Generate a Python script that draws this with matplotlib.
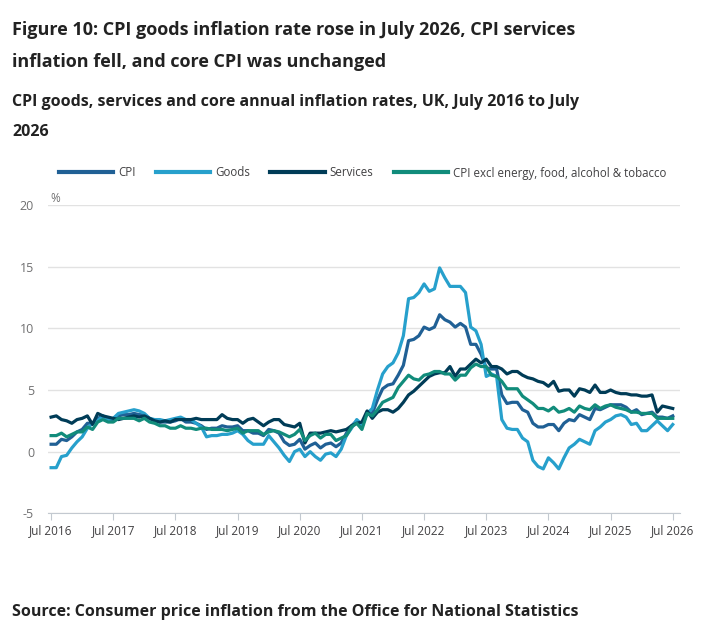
import numpy as np
import matplotlib
matplotlib.use("Agg")
import matplotlib.pyplot as plt
from matplotlib.lines import Line2D

# annual inflation rates (%), monthly from Jul 2016 to Jul 2026
cpi = [0.6, 0.6, 1.0, 0.9, 1.2, 1.6,
       1.8, 2.3, 2.3, 2.7, 2.9, 2.6, 2.6, 2.9, 3.0, 3.0, 3.1, 3.0,
       3.0, 2.7, 2.5, 2.4, 2.4, 2.4, 2.5, 2.7, 2.4, 2.4, 2.3, 2.1,
       1.8, 1.9, 1.9, 2.1, 2.0, 2.0, 2.1, 1.7, 1.7, 1.5, 1.5, 1.3,
       1.8, 1.7, 1.5, 0.8, 0.5, 0.6, 1.0, 0.2, 0.5, 0.7, 0.3, 0.6,
       0.7, 0.4, 0.7, 1.5, 2.1, 2.5, 2.0, 3.2, 3.1, 4.2, 5.1, 5.4,
       5.5, 6.2, 7.0, 9.0, 9.1, 9.4, 10.1, 9.9, 10.1, 11.1, 10.7, 10.5,
       10.1, 10.4, 10.1, 8.7, 8.7, 7.9, 6.8, 6.7, 6.7, 4.6, 3.9, 4.0,
       4.0, 3.4, 3.2, 2.3, 2.0, 2.0, 2.2, 2.2, 1.7, 2.3, 2.6, 2.5,
       3.0, 2.8, 2.6, 3.5, 3.4, 3.6, 3.8, 3.8, 3.8, 3.6, 3.2, 3.4,
       3.0, 3.1, 3.2, 2.8, 2.8, 2.7, 2.9]

goods = [-1.3, -1.3, -0.4, -0.3, 0.3, 0.8,
         1.2, 1.9, 2.3, 2.5, 2.9, 2.6, 2.7, 3.1, 3.2, 3.3, 3.4, 3.3,
         3.1, 2.7, 2.6, 2.6, 2.5, 2.6, 2.7, 2.8, 2.6, 2.6, 2.3, 2.0,
         1.2, 1.3, 1.3, 1.4, 1.4, 1.5, 1.7, 1.4, 0.9, 0.6, 0.6, 0.6,
         1.3, 0.8, 0.3, -0.3, -0.8, 0.0, 0.2, -0.4, 0.0, -0.4, -0.7, -0.2,
         -0.1, -0.4, 0.2, 1.3, 1.9, 2.6, 2.2, 3.1, 3.5, 5.0, 6.3, 6.9,
         7.2, 8.0, 9.4, 12.4, 12.5, 12.9, 13.6, 13.0, 13.2, 14.9, 14.1, 13.4,
         13.4, 13.4, 12.9, 10.1, 9.8, 8.7, 6.1, 6.3, 6.1, 2.6, 1.9, 1.8,
         1.8, 1.1, 0.8, -0.7, -1.2, -1.4, -0.5, -0.9, -1.4, -0.5, 0.3, 0.6,
         1.0, 0.8, 0.6, 1.7, 2.0, 2.4, 2.6, 2.9, 3.0, 2.8, 2.2, 2.3,
         1.7, 1.7, 2.1, 2.5, 2.1, 1.7, 2.2]

services = [2.8, 2.9, 2.6, 2.5, 2.3, 2.6,
            2.7, 2.9, 2.2, 3.1, 2.9, 2.8, 2.7, 2.6, 2.7, 2.8, 2.9, 2.8,
            2.9, 2.7, 2.5, 2.4, 2.5, 2.4, 2.6, 2.6, 2.6, 2.6, 2.7, 2.6,
            2.6, 2.6, 2.6, 3.0, 2.7, 2.6, 2.6, 2.3, 2.6, 2.7, 2.4, 2.1,
            2.4, 2.6, 2.6, 2.2, 2.1, 2.0, 2.3, 0.7, 1.5, 1.5, 1.5, 1.6,
            1.7, 1.6, 1.7, 1.8, 2.1, 2.3, 2.4, 3.3, 2.7, 3.2, 3.4, 3.4,
            3.2, 3.5, 4.0, 4.6, 4.9, 5.3, 5.7, 6.1, 6.3, 6.4, 6.4, 6.9,
            6.1, 6.7, 6.7, 7.1, 7.5, 7.2, 7.5, 6.9, 6.9, 6.7, 6.3, 6.5,
            6.5, 6.2, 6.0, 5.9, 5.7, 5.6, 5.3, 5.7, 4.9, 5.0, 5.0, 4.5,
            5.1, 5.0, 4.8, 5.4, 4.8, 4.8, 5.0, 4.8, 4.7, 4.7, 4.6, 4.6,
            4.5, 4.5, 4.6, 3.2, 3.7, 3.6, 3.5]

core = [1.3, 1.3, 1.5, 1.2, 1.4, 1.6,
        1.6, 2.0, 1.8, 2.4, 2.6, 2.4, 2.4, 2.7, 2.7, 2.7, 2.7, 2.5,
        2.7, 2.4, 2.3, 2.1, 2.1, 1.9, 1.9, 2.1, 1.9, 1.9, 1.8, 1.9,
        1.9, 1.8, 1.8, 1.8, 1.7, 1.8, 1.9, 1.5, 1.7, 1.7, 1.7, 1.4,
        1.6, 1.7, 1.6, 1.4, 1.2, 1.4, 1.8, 0.9, 1.3, 1.5, 1.1, 1.4,
        1.4, 0.9, 1.1, 1.3, 2.0, 2.3, 1.8, 3.1, 2.9, 3.4, 4.0, 4.2,
        4.4, 5.2, 5.7, 6.2, 5.9, 5.8, 6.2, 6.3, 6.5, 6.5, 6.3, 6.3,
        5.8, 6.2, 6.2, 6.8, 7.1, 6.9, 6.9, 6.2, 6.1, 5.7, 5.1, 5.1,
        5.1, 4.5, 4.2, 3.9, 3.5, 3.5, 3.3, 3.6, 3.2, 3.3, 3.5, 3.2,
        3.7, 3.5, 3.4, 3.8, 3.5, 3.7, 3.8, 3.6, 3.5, 3.4, 3.2, 3.2,
        3.1, 3.1, 3.1, 2.7, 2.7, 2.7, 2.7]

tick_labels = ["Jul 2016", "Jul 2017", "Jul 2018", "Jul 2019", "Jul 2020", "Jul 2021",
               "Jul 2022", "Jul 2023", "Jul 2024", "Jul 2025", "Jul 2026"]
series_names = ["CPI", "Goods", "Services", "CPI excl energy, food, alcohol & tobacco"]
colors = ["#206095", "#27a0cc", "#003c57", "#118c7b"]

W, H = 715, 628
fig = plt.figure(figsize=(W / 100, H / 100), dpi=100)
plt.rcParams["font.family"] = ["Open Sans", "DejaVu Sans"]

def fx(px):
    return px / W

def fy(py):
    return 1 - py / H

# plot area in pixels: left 48, right 680, top 205 (20%), bottom 513.3 (-5%)
ax = fig.add_axes([fx(48), fy(513.3), fx(680) - fx(48), fy(205) - fy(513.3)])

x = np.arange(len(cpi))
for vals, c in zip([cpi, goods, services, core], colors):
    ax.plot(x, vals, color=c, lw=2.3, solid_joinstyle="round")

ax.set_xlim(-0.6, 121.4)
ax.set_ylim(-5, 20)
ax.set_yticks([-5, 0, 5, 10, 15, 20])
ax.set_yticklabels(["-5", "0", "5", "10", "15", "20"])
ax.yaxis.grid(True, color="#e2e2e2", lw=1)
ax.set_axisbelow(True)
ax.set_xticks(np.arange(0, 121, 12))
ax.set_xticklabels(tick_labels)

for s in ["top", "right", "left"]:
    ax.spines[s].set_visible(False)
ax.spines["bottom"].set_color("#c3c9d0")
ax.tick_params(axis="y", length=0, pad=10, labelsize=9, labelcolor="#707071")
ax.tick_params(axis="x", length=5, color="#c3c9d0", pad=3, labelsize=8.5, labelcolor="#414042")

fig.text(fx(50), fy(198), "%", fontsize=8.5, color="#707071", va="center")

# titles
fig.text(fx(12), fy(30), "Figure 10: CPI goods inflation rate rose in July 2026, CPI services",
         fontsize=13, fontweight="bold", color="#222222", va="center")
fig.text(fx(12), fy(62), "inflation fell, and core CPI was unchanged",
         fontsize=13, fontweight="bold", color="#222222", va="center")
fig.text(fx(12), fy(102), "CPI goods, services and core annual inflation rates, UK, July 2016 to July",
         fontsize=11.5, fontweight="bold", color="#222222", va="center")
fig.text(fx(12), fy(132), "2026", fontsize=11.5, fontweight="bold", color="#222222", va="center")

fig.text(fx(12), fy(612), "Source: Consumer price inflation from the Office for National Statistics",
         fontsize=11.5, fontweight="bold", color="#222222", va="center")

handles = [Line2D([], [], color=c, lw=3) for c in colors]
fig.legend(handles, series_names, loc="center left", bbox_to_anchor=(fx(59), fy(173)),
           ncol=4, frameon=False, fontsize=8.3, handlelength=4.7, handletextpad=0.45,
           columnspacing=1.75, borderaxespad=0, borderpad=0, labelcolor="#414042")

fig.savefig("out.png", dpi=100)
